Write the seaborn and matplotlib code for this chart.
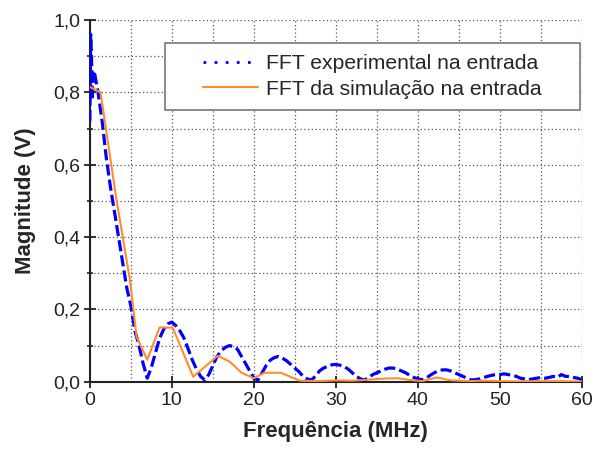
import matplotlib
matplotlib.use("Agg")
import matplotlib.pyplot as plt
import seaborn as sns
import pandas as pd
from matplotlib.ticker import MultipleLocator
from matplotlib.patches import Rectangle
from matplotlib.lines import Line2D

freq_exp = [0, 0.1, 0.2, 0.3, 0.4, 0.6, 1.0, 1.5, 2.0, 2.5, 3.0, 3.5, 4.0, 4.5, 5.0, 5.5, 6.0, 6.5, 7.0, 7.5,
            8.0, 8.5, 9.0, 9.5, 10.0, 10.5, 11.0, 11.5, 12.0, 12.5, 13.0, 13.5, 14.0, 14.5, 15.0, 15.5,
            16.0, 16.5, 17.0, 17.5, 18.0, 18.5, 19.0, 19.5, 20.0, 20.5, 21.0, 21.5, 22.0, 22.5, 23.0, 23.5,
            24.0, 24.5, 25.0, 25.5, 26.0, 26.5, 27.0, 27.5, 28.0, 28.5, 29.0, 29.5, 30.0, 30.5, 31.0, 31.5,
            32.0, 32.5, 33.0, 33.5, 34.0, 34.5, 35.0, 35.5, 36.0, 36.5, 37.0, 37.5, 38.0, 38.5, 39.0, 39.5,
            40.0, 40.5, 41.0, 41.5, 42.0, 42.5, 43.0, 43.5, 44.0, 44.5, 45.0, 45.5, 46.0, 46.5, 47.0, 47.5,
            48.0, 48.5, 49.0, 49.5, 50.0, 50.5, 51.0, 51.5, 52.0, 52.5, 53.0, 53.5, 54.0, 54.5, 55.0, 55.5,
            56.0, 56.5, 57.0, 57.5, 58.0, 58.5, 59.0, 59.5, 60.0]
mag_exp = [0.72, 0.96, 0.90, 0.78, 0.86, 0.85, 0.80, 0.72, 0.62, 0.54, 0.47, 0.40, 0.33, 0.26, 0.21, 0.14,
           0.10, 0.05, 0.01, 0.04, 0.08, 0.12, 0.145, 0.16, 0.165, 0.155, 0.14, 0.12, 0.09, 0.06, 0.035, 0.015,
           0.005, 0.02, 0.045, 0.07, 0.085, 0.095, 0.10, 0.098, 0.09, 0.07, 0.05, 0.03, 0.01, 0.005, 0.025,
           0.045, 0.06, 0.067, 0.07, 0.065, 0.058, 0.048, 0.038, 0.028, 0.015, 0.008, 0.005, 0.015, 0.03,
           0.038, 0.043, 0.047, 0.048, 0.046, 0.042, 0.035, 0.025, 0.015, 0.008, 0.005, 0.012, 0.02, 0.025,
           0.03, 0.035, 0.038, 0.038, 0.035, 0.03, 0.025, 0.018, 0.012, 0.008, 0.006, 0.01, 0.018, 0.025,
           0.03, 0.033, 0.033, 0.03, 0.025, 0.02, 0.015, 0.01, 0.005, 0.006, 0.008, 0.012, 0.015, 0.018,
           0.02, 0.02, 0.022, 0.02, 0.018, 0.015, 0.01, 0.008, 0.006, 0.008, 0.01, 0.012, 0.01, 0.012,
           0.015, 0.012, 0.02, 0.015, 0.015, 0.012, 0.01, 0.005]

freq_sim = [0, 1.3, 3.2, 4.9, 5.7, 7.0, 8.5, 10.1, 12.6, 15.6, 17.1, 18.5, 20.0, 21.3, 23.3, 25.6, 28, 30,
            32, 34, 36, 37.5, 39, 40.5, 42.3, 44, 46, 48, 50, 52, 55, 60]
mag_sim = [0.815, 0.80, 0.51, 0.28, 0.124, 0.061, 0.15, 0.15, 0.014, 0.072, 0.055, 0.025, 0.01, 0.025, 0.025,
           0.003, 0.002, 0.004, 0.003, 0.006, 0.009, 0.01, 0.005, 0.002, 0.012, 0.004, 0.002, 0.003, 0.002,
           0.001, 0.002, 0.001]

x_ticks = [0, 10, 20, 30, 40, 50, 60]
y_ticks = [0.0, 0.2, 0.4, 0.6, 0.8, 1.0]
y_tick_labels = ["0,0", "0,2", "0,4", "0,6", "0,8", "1,0"]

label_exp = "FFT experimental na entrada"
label_sim = "FFT da simulação na entrada"

sns.set_style("white")
plt.rcParams['font.family'] = ['Liberation Sans', 'DejaVu Sans']

fig = plt.figure(figsize=(6.03, 4.54), dpi=100)
ax = fig.add_axes([0.149, 0.159, 0.816, 0.797])

df_exp = pd.DataFrame({"f": freq_exp, "m": mag_exp})
df_sim = pd.DataFrame({"f": freq_sim, "m": mag_sim})

blue = "#0000FF"
orange = "#FF8C2E"
sns.lineplot(data=df_exp, x="f", y="m", ax=ax, color=blue, linewidth=2.3,
             linestyle=(0, (3.5, 1.3)), zorder=3)
sns.lineplot(data=df_sim, x="f", y="m", ax=ax, color=orange, linewidth=1.5, zorder=4)

ax.set_xlim(0, 60)
ax.set_ylim(0, 1.0)
ax.set_xticks(x_ticks)
ax.set_yticks(y_ticks)
ax.set_yticklabels(y_tick_labels)
ax.xaxis.set_minor_locator(MultipleLocator(5))
ax.yaxis.set_minor_locator(MultipleLocator(0.1))
ax.grid(True, which="both", linestyle=(0, (1, 2)), color="#555555", linewidth=0.9)
ax.set_axisbelow(True)

for s in ["top", "right"]:
    ax.spines[s].set_visible(False)
for s in ["left", "bottom"]:
    ax.spines[s].set_color("#222222")
    ax.spines[s].set_linewidth(1.5)

ax.tick_params(which="major", direction="inout", length=8, width=1.3, labelsize=14, colors="#222222",
               bottom=True, left=True, pad=3)
ax.tick_params(axis="y", which="minor", direction="inout", length=5, width=1.2, left=True)
ax.tick_params(axis="x", which="minor", length=0, bottom=False)

ax.set_xlabel("Frequência (MHz)", fontsize=16, fontweight="bold", labelpad=9)
ax.set_ylabel("Magnitude (V)", fontsize=16, fontweight="bold", labelpad=12)

# legend box (frame drawn as a rectangle, entries centred inside)
box = Rectangle((0.152, 0.751), 0.844, 0.185, transform=ax.transAxes, facecolor="white",
                edgecolor="#777777", linewidth=1.2, zorder=5)
ax.add_patch(box)
handles = [Line2D([], [], color=blue, linewidth=2.0, linestyle=(0, (1, 3))),
           Line2D([], [], color=orange, linewidth=1.5)]
leg = ax.legend(handles, [label_exp, label_sim], loc="center", bbox_to_anchor=(0.574, 0.844),
                fontsize=15.2, frameon=False, handlelength=2.6, handletextpad=0.35, labelspacing=0.3)
leg.set_zorder(6)

fig.savefig("out.png", dpi=100)
